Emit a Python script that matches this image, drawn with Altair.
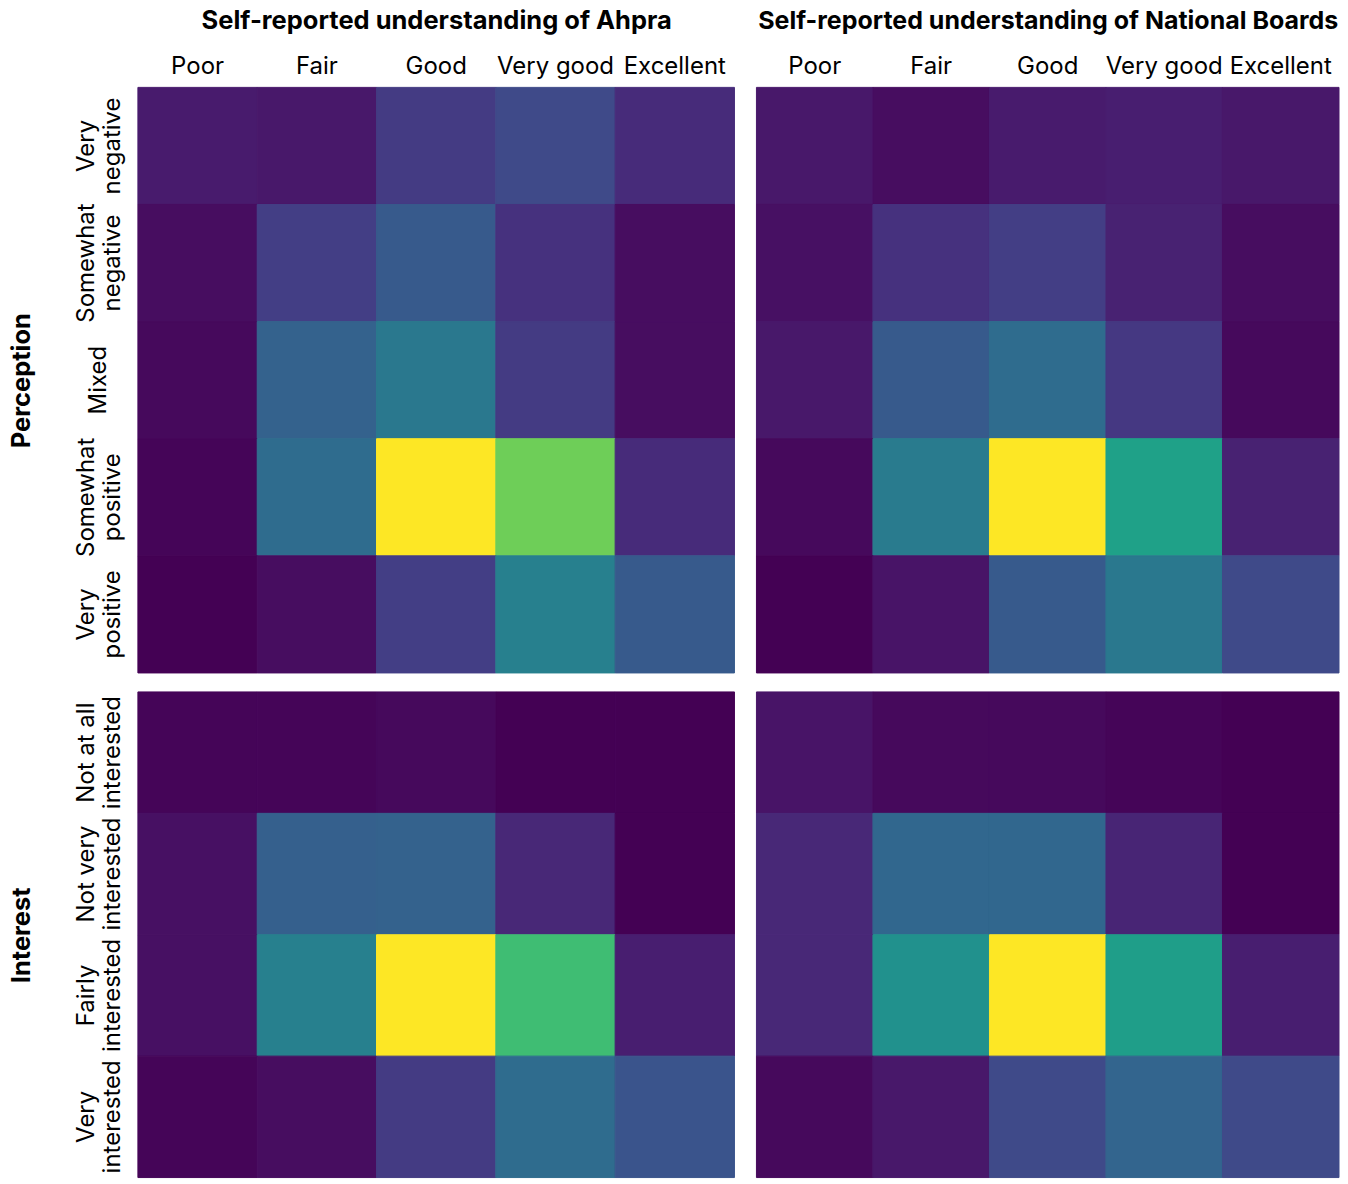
import altair as alt
import pandas as pd

# ---- categories ----
understanding = ["Poor", "Fair", "Good", "Very good", "Excellent"]
perception_levels = ["Very negative", "Somewhat negative", "Mixed",
                     "Somewhat positive", "Very positive"]
interest_levels = ["Not at all interested", "Not very interested",
                   "Fairly interested", "Very interested"]

# ---- values (relative intensity, % of each panel's maximum; read from colours) ----
# rows follow the level lists, columns follow `understanding`
ahpra_perception = [
    [7, 6, 17, 22, 12],
    [3, 18, 28, 14, 3],
    [2, 31, 40, 17, 3],
    [1, 35, 100, 78, 12],
    [0, 3, 18, 43, 28],
]
boards_perception = [
    [6, 3, 7, 8, 6],
    [4, 14, 18, 9, 3],
    [6, 28, 35, 16, 2],
    [2, 41, 100, 57, 9],
    [0, 5, 28, 40, 22],
]
ahpra_interest = [
    [1, 1, 2, 0, 0],
    [4, 30, 31, 11, 0],
    [4, 43, 100, 69, 8],
    [1, 3, 17, 35, 26],
]
boards_interest = [
    [5, 2, 2, 1, 0],
    [11, 33, 33, 10, 0],
    [11, 50, 100, 56, 8],
    [2, 6, 22, 32, 22],
]

FONT = "Inter"
LABEL_EXPR = ("lastindexof(datum.value, ' ') > 0 ? "
              "[slice(datum.value, 0, lastindexof(datum.value, ' ')), "
              "slice(datum.value, lastindexof(datum.value, ' ') + 1)] : datum.value")


def to_df(rows, levels):
    recs = []
    for yi, lvl in enumerate(levels):
        for xi, u in enumerate(understanding):
            recs.append({"understanding": u, "level": lvl, "value": rows[yi][xi]})
    return pd.DataFrame(recs)


def panel(rows, levels, xtitle, ytitle, show_x, show_y, width, height, title_size=25.5):
    if show_x:
        x_axis = alt.Axis(orient="top", title=xtitle, labelAngle=0, ticks=False,
                          tickSize=0, domain=False, labelFont=FONT, labelFontSize=24,
                          labelColor="#000", labelPadding=9, titleFont=FONT,
                          titleFontSize=title_size, titleFontWeight="bold",
                          titleColor="#000", titlePadding=21)
    else:
        x_axis = None
    if show_y:
        y_axis = alt.Axis(title=ytitle, labelAngle=270, labelAlign="center",
                          labelBaseline={"condition": {"test": "indexof(datum.value, ' ') < 0",
                                                       "value": "middle"},
                                         "value": "bottom"},
                          labelExpr=LABEL_EXPR,
                          labelLineHeight=26, ticks=False, tickSize=0, domain=False,
                          labelFont=FONT, labelFontSize=24, labelColor="#000",
                          labelPadding=39, titleFont=FONT, titleFontSize=25.5,
                          titleFontWeight="bold", titleColor="#000", titleAngle=270,
                          titlePadding=40)
    else:
        y_axis = None
    scale = alt.Scale(scheme="viridis", domain=[0, 100])
    return alt.Chart(to_df(rows, levels)).mark_rect(strokeWidth=1).encode(
        x=alt.X("understanding:N", sort=understanding, axis=x_axis,
                scale=alt.Scale(paddingInner=0, paddingOuter=0)),
        y=alt.Y("level:N", sort=levels, axis=y_axis,
                scale=alt.Scale(paddingInner=0, paddingOuter=0)),
        color=alt.Color("value:Q", scale=scale, legend=None),
        stroke=alt.Stroke("value:Q", scale=scale, legend=None),
    ).properties(width=width, height=height)


W_LEFT = 597
W_RIGHT = 583
H_TOP = 586
H_BOT = 486

a = panel(ahpra_perception, perception_levels, "Self-reported understanding of Ahpra",
          "Perception", True, True, W_LEFT, H_TOP)
b = panel(boards_perception, perception_levels,
          "Self-reported understanding of National Boards", "", True, False,
          W_RIGHT, H_TOP, title_size=25)
c = panel(ahpra_interest, interest_levels, "", "Interest", False, True, W_LEFT, H_BOT)
d = panel(boards_interest, interest_levels, "", "", False, False, W_RIGHT, H_BOT)

top = alt.hconcat(a, b, spacing=22, bounds="flush")
bottom = alt.hconcat(c, d, spacing=22, bounds="flush")
chart = alt.vconcat(top, bottom, spacing=17).properties(
    padding={"left": 2, "top": 0, "right": 0, "bottom": 0}
).configure_view(stroke=None)

chart.save("out.html", embed_options={"renderer": "svg", "actions": False})
